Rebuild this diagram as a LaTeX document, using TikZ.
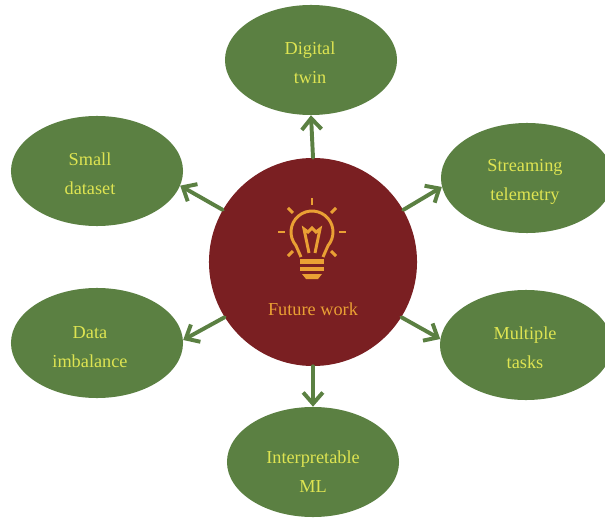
\documentclass[tikz,border=0pt]{standalone}
\usepackage{fontspec}
\setmainfont{Liberation Serif}
\usetikzlibrary{shapes.geometric,arrows.meta}
\definecolor{leaf}{RGB}{91,128,66}
\definecolor{wine}{RGB}{122,31,34}
\definecolor{lemon}{RGB}{222,228,82}
\definecolor{amber}{RGB}{234,160,52}

\begin{document}
\begin{tikzpicture}[x=0.025cm, y=-0.025cm,
  topic/.style={ellipse, fill=leaf, inner sep=0pt, minimum width=4.3cm, minimum height=2.75cm},
  lettering/.style={text=lemon, align=center, font=\fontsize{13}{20.5}\selectfont},
  hub/.style={circle, fill=wine, inner sep=0pt, minimum size=5.2cm},
  link/.style={draw=leaf, line width=2.8pt, -{Straight Barb[length=8pt,width=14pt]}, line cap=round},
  bulb/.style={color=amber, line width=2.1pt}]

  \useasboundingbox (0,0) rectangle (605,518);

  \node[hub] (fw) at (313,262) {};
  \node[text=amber, font=\fontsize{13}{15}\selectfont] (fwlabel) at (313,309) {Future work};

  \node[topic] (twin) at (311,60) {};
  \node[topic] (small) at (97,171) {};
  \node[topic] (stream) at (527,178) {};
  \node[topic] (imb) at (97,343) {};
  \node[topic] (multi) at (526,345) {};
  \node[topic] (ml) at (313,462) {};

  \node[lettering] (twintext) at (310,63) {Digital\\twin};
  \node[lettering] (smalltext) at (90,174) {Small\\dataset};
  \node[lettering] (streamtext) at (525,182) {Streaming\\telemetry};
  \node[lettering] (imbtext) at (90,347) {Data\\imbalance};
  \node[lettering] (multitext) at (525,348) {Multiple\\tasks};
  \node[lettering] (mltext) at (313,472) {Interpretable\\ML};

  \draw[link] (fw.north) -- (twin.south);
  \draw[link] (fw.150) -- (small.-10);
  \draw[link] (fw.30) -- (stream.186);
  \draw[link] (fw.212) -- (imb.2);
  \draw[link] (fw.-32) -- (multi.176);
  \draw[link] (fw.south) -- (ml.north);

  \begin{scope}[shift={(312,232)}, y=0.025cm, bulb]
    \draw (-11,-25) -- (220:21) arc[start angle=220, end angle=-40, radius=21] -- (11,-25);
    \draw (-3,-21) -- (-8,3) -- (-4,0) -- (0,4) -- (4,0) -- (8,3) -- (3,-21);
    \foreach \a in {0,45,90,135,180,-45,-135}
      \draw (\a:27) -- (\a:34);
    \fill (-12,-27) rectangle (12,-32);
    \fill (-12,-35) rectangle (12,-39);
    \fill (-10,-42) -- (10,-42) -- (6,-47) -- (-6,-47) -- cycle;
  \end{scope}
\end{tikzpicture}
\end{document}
